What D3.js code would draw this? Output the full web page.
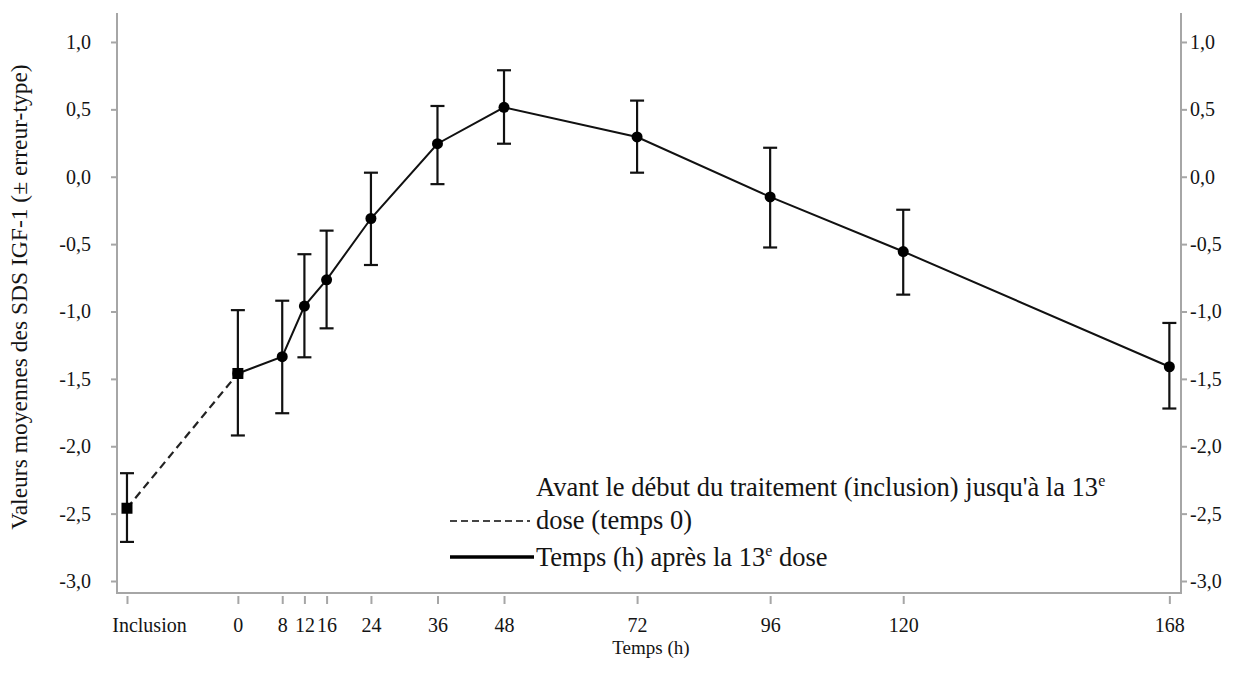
<!DOCTYPE html>
<html><head><meta charset="utf-8">
<script src="https://cdn.jsdelivr.net/npm/d3@7"></script>
<style>
html,body{margin:0;padding:0;background:#fff;}
svg text{font-family:"Liberation Serif","Times New Roman",serif;}
</style></head>
<body><svg id="chart" width="1236" height="677"></svg>
<script>
// ---- data ----
const timeLabels = ["Inclusion","0","8","12","16","24","36","48","72","96","120","168"];
const timePos    = [-20, 0, 8, 12, 16, 24, 36, 48, 72, 96, 120, 168];
const meanVals   = [-2.46, -1.46, -1.335, -0.96, -0.765, -0.31, 0.245, 0.515, 0.295, -0.15, -0.555, -1.41];
const upperVals  = [-2.20, -0.99, -0.92, -0.575, -0.40, 0.03, 0.525, 0.79, 0.565, 0.215, -0.245, -1.085];
const lowerVals  = [-2.71, -1.92, -1.755, -1.34, -1.125, -0.655, -0.055, 0.245, 0.03, -0.525, -0.875, -1.72];
const yTickValues = [1.0, 0.5, 0.0, -0.5, -1.0, -1.5, -2.0, -2.5, -3.0];
const yTickLabels = ["1,0","0,5","0,0","-0,5","-1,0","-1,5","-2,0","-2,5","-3,0"];
const dashedIdx = [0, 1];
const solidIdx  = [1,2,3,4,5,6,7,8,9,10,11];
const yTitle = "Valeurs moyennes des SDS IGF-1 (\u00b1 erreur-type)";
const xTitle = "Temps (h)";
const legend1a = "Avant le d\u00e9but du traitement (inclusion) jusqu'\u00e0 la 13";
const legend1b = "dose (temps 0)";
const legend2  = "Temps (h) apr\u00e8s la 13";

// ---- layout ----
const L = 117, R = 1181, T = 13, B = 593;
const FONT = '"Liberation Serif","Times New Roman",serif';
const svg = d3.select("#chart");
const x = d3.scaleLinear().domain([-21.8, 170.1]).range([L, R]);
const y = d3.scaleLinear().domain([-3.089, 1.215]).range([B, T]);
const axisColor = "#a6a6a6";
const txtColor = "#141414";

// axis frame
svg.append("path")
  .attr("d", `M${L},${T}V${B}H${R}V${T}`)
  .attr("fill","none").attr("stroke",axisColor).attr("stroke-width",2);

// left axis
const gl = svg.append("g").attr("transform",`translate(${L},0)`)
  .call(d3.axisLeft(y).tickValues(yTickValues).tickSize(6).tickPadding(20)
    .tickFormat((d,i)=>yTickLabels[i]));
// right axis
const gr = svg.append("g").attr("transform",`translate(${R},0)`)
  .call(d3.axisRight(y).tickValues(yTickValues).tickSize(6).tickPadding(3)
    .tickFormat((d,i)=>yTickLabels[i]));
// bottom axis
const gb = svg.append("g").attr("transform",`translate(0,${B+3})`)
  .call(d3.axisBottom(x).tickValues(timePos).tickSize(8).tickPadding(14)
    .tickFormat((d,i)=>timeLabels[i]));

[gl,gr,gb].forEach(g=>{
  g.attr("font-family",FONT);
  g.select(".domain").remove();
  g.selectAll(".tick line").attr("stroke",axisColor).attr("stroke-width",2);
  g.selectAll(".tick text").attr("fill",txtColor).style("font-size","20px")
    .style("font-family",FONT);
});
gb.selectAll(".tick text").filter((d,i)=>i===0).attr("dx",22);

// axis titles
svg.append("text").attr("transform","translate(27,297) rotate(-90)")
  .attr("text-anchor","middle").attr("fill",txtColor).style("font-size","23.5px").text(yTitle);
svg.append("text").attr("x",651).attr("y",654).attr("text-anchor","middle")
  .attr("fill",txtColor).style("font-size","19px").text(xTitle);

// lines
const pts = timePos.map((t,i)=>({t, m:meanVals[i], lo:lowerVals[i], hi:upperVals[i]}));
const line = d3.line().x(d=>x(d.t)).y(d=>y(d.m));
svg.append("path").datum(dashedIdx.map(i=>pts[i])).attr("d",line)
  .attr("fill","none").attr("stroke","#222").attr("stroke-width",2.2).attr("stroke-dasharray","8,5");
svg.append("path").datum(solidIdx.map(i=>pts[i])).attr("d",line)
  .attr("fill","none").attr("stroke","#111").attr("stroke-width",2);

// error bars
const eb = svg.append("g").attr("stroke","#111").attr("stroke-width",2.2);
pts.forEach(d=>{
  eb.append("line").attr("x1",x(d.t)).attr("x2",x(d.t)).attr("y1",y(d.hi)).attr("y2",y(d.lo));
  eb.append("line").attr("x1",x(d.t)-7).attr("x2",x(d.t)+7).attr("y1",y(d.hi)).attr("y2",y(d.hi));
  eb.append("line").attr("x1",x(d.t)-7).attr("x2",x(d.t)+7).attr("y1",y(d.lo)).attr("y2",y(d.lo));
});

// markers
svg.append("g").selectAll("rect").data(dashedIdx.map(i=>pts[i])).join("rect")
  .attr("x",d=>x(d.t)-5.5).attr("y",d=>y(d.m)-5.5).attr("width",11).attr("height",11).attr("fill","#000");
svg.append("g").selectAll("circle").data(solidIdx.map(i=>pts[i])).join("circle")
  .attr("cx",d=>x(d.t)).attr("cy",d=>y(d.m)).attr("r",5.5).attr("fill","#000");

// legend
const lg = svg.append("g");
const t1 = lg.append("text").attr("x",536).attr("y",496).attr("fill",txtColor).style("font-size","26.5px");
t1.append("tspan").text(legend1a);
t1.append("tspan").attr("dy",-10).style("font-size","16px").text("e");
lg.append("text").attr("x",536).attr("y",529).attr("fill",txtColor).style("font-size","26.5px").text(legend1b);
const t3 = lg.append("text").attr("x",536).attr("y",566).attr("fill",txtColor).style("font-size","26.5px");
t3.append("tspan").text(legend2);
t3.append("tspan").attr("dy",-10).style("font-size","16px").text("e");
t3.append("tspan").attr("dy",10).text(" dose");
lg.append("line").attr("x1",450).attr("x2",530).attr("y1",521).attr("y2",521)
  .attr("stroke","#444").attr("stroke-width",2.2).attr("stroke-dasharray","7,4");
lg.append("line").attr("x1",450).attr("x2",534).attr("y1",557).attr("y2",557)
  .attr("stroke","#000").attr("stroke-width",3.5);
</script></body></html>
